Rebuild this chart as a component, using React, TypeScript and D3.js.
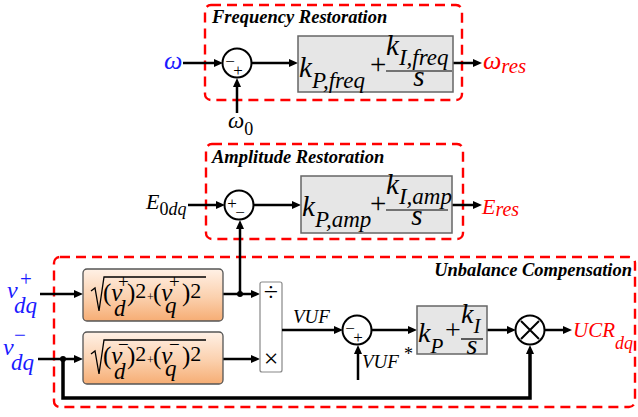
import * as d3 from 'd3';

// block titles and signal names
const titles = ['Frequency Restoration', 'Amplitude Restoration', 'Unbalance Compensation'];
const inputs = ['ω', 'E', 'v', 'v'];
const outputs = ['ω', 'E', 'UCR'];
const subs = ['res', 'res', 'dq'];
const gainSubs = ['P,freq', 'I,freq', 'P,amp', 'I,amp', 'P', 'I'];

const RED = '#ff0000';
const BLUE = '#1a1aff';
const serif = { fontFamily: 'Liberation Serif' };

const line = d3.line<[number, number]>();

const Wire = ({ pts, arrow = true, w = 2.5 }: { pts: [number, number][]; arrow?: boolean; w?: number }) => {
  const [x1, y1] = pts[pts.length - 2];
  const [x2, y2] = pts[pts.length - 1];
  const a = Math.atan2(y2 - y1, x2 - x1);
  const L = 9, W = 4;
  const head: [number, number][] = [
    [x2, y2],
    [x2 - L * Math.cos(a) + W * Math.sin(a), y2 - L * Math.sin(a) - W * Math.cos(a)],
    [x2 - L * Math.cos(a) - W * Math.sin(a), y2 - L * Math.sin(a) + W * Math.cos(a)],
  ];
  const body = arrow ? [...pts.slice(0, -1), [x2 - 6 * Math.cos(a), y2 - 6 * Math.sin(a)] as [number, number]] : pts;
  return (
    <g>
      <path d={line(body) ?? ''} fill="none" stroke="#000" strokeWidth={w} />
      {arrow && <path d={(line(head) ?? '') + 'Z'} fill="#000" />}
    </g>
  );
};

const Dashed = ({ x, y, w, h }: { x: number; y: number; w: number; h: number }) => (
  <rect x={x} y={y} width={w} height={h} rx={6} fill="none" stroke={RED} strokeWidth={2.4} strokeDasharray="10,6" />
);

const Sum = ({ cx, cy, left, bottom }: { cx: number; cy: number; left: string; bottom: string }) => (
  <g>
    <circle cx={cx} cy={cy} r={14.5} fill="#fff" stroke="#000" strokeWidth={2} />
    <text style={serif} x={cx - 7} y={cy + 4} fontSize={17} textAnchor="middle">{left}</text>
    <text style={serif} x={cx + 1} y={cy + 13} fontSize={17} textAnchor="middle">{bottom}</text>
  </g>
);

const Gain = ({ x, y, w, h, kx, ky, p, fx, fw, fy, i, sub = 23, size = 29 }: any) => (
  <g fontStyle="italic">
    <rect x={x} y={y} width={w} height={h} fill="#e6e6e6" stroke="#666" strokeWidth={1.5} />
    <text style={serif} x={kx} y={ky} fontSize={size}>k<tspan fontSize={sub} dy={11}>{p}</tspan></text>
    <text style={serif} x={fx - 16} y={ky - 3} fontSize={size} fontStyle="normal">+</text>
    <text style={serif} x={fx} y={fy} fontSize={size}>k<tspan fontSize={sub} dy={10}>{i}</tspan></text>
    <line x1={fx} x2={fx + fw} y1={fy + 16} y2={fy + 16} stroke="#000" strokeWidth={1.2} />
    <text style={serif} x={fx + fw / 2} y={fy + 31} fontSize={size} textAnchor="middle">s</text>
  </g>
);

const Mag = ({ y, sign }: { y: number; sign: string }) => {
  const p = d3.path();
  p.moveTo(91, y + 22);
  p.lineTo(95, y + 19);
  p.lineTo(99, y + 42);
  p.lineTo(104, y + 8);
  p.lineTo(206, y + 8);
  const s = sign === '+' ? '+' : '−';
  return (
    <g>
      <rect x={83} y={y} width={140} height={52} rx={4} fill="url(#orange)" stroke="#555" strokeWidth={1.3} />
      <path d={p.toString()} fill="none" stroke="#000" strokeWidth={1.3} />
      <text style={serif} y={y + 32} fontSize={25}>
        <tspan x={103}>(</tspan><tspan fontStyle="italic">v</tspan>
        <tspan x={127}>)</tspan><tspan dy={-3} fontSize={22}>2</tspan>
        <tspan x={147} dy={3} fontSize={12}>+</tspan>
        <tspan x={153} fontSize={25}>(</tspan><tspan fontStyle="italic">v</tspan>
        <tspan x={182}>)</tspan><tspan dy={-3} fontSize={22}>2</tspan>
      </text>
      <text style={serif} x={118} y={y + 19} fontSize={19}>{s}</text>
      <text style={serif} x={169} y={y + 19} fontSize={19}>{s}</text>
      <text style={serif} x={114} y={y + 47} fontSize={23} fontStyle="italic">d</text>
      <text style={serif} x={165} y={y + 44} fontSize={23} fontStyle="italic">q</text>
    </g>
  );
};

export default function App() {
  return (
    <svg width={638} height={417} style={{ position: 'absolute', left: 0, top: 0 }}>
      <defs>
        <linearGradient id="orange" x1="0" y1="0" x2="0" y2="1">
          <stop offset="0" stopColor="#fff1e6" />
          <stop offset="0.55" stopColor="#fbd0ad" />
          <stop offset="1" stopColor="#f6ad74" />
        </linearGradient>
      </defs>
      <rect width={638} height={417} fill="#fff" />

      {/* dashed group frames */}
      <Dashed x={205} y={5} w={257} h={95} />
      <Dashed x={206} y={144} w={257} h={95} />
      <Dashed x={54} y={257} w={581} h={150} />

      <g fontStyle="italic" fontWeight="bold" fontSize={18.5}>
        <text style={serif} x={212} y={23}>{titles[0]}</text>
        <text style={serif} x={212} y={163}>{titles[1]}</text>
        <text style={serif} x={632} y={276} textAnchor="end">{titles[2]}</text>
      </g>

      {/* frequency loop */}
      <Wire pts={[[183, 63], [223, 63]]} />
      <Wire pts={[[237, 113], [237, 78]]} />
      <Wire pts={[[252, 63], [298, 63]]} />
      <Wire pts={[[453, 63], [482, 63]]} />
      <Sum cx={237} cy={63} left="−" bottom="+" />
      <Gain x={298} y={36} w={155} h={56} kx={299} ky={77} p={gainSubs[0]} fx={386} fw={66} fy={55} i={gainSubs[1]} />

      {/* amplitude loop */}
      <Wire pts={[[188, 205], [225, 205]]} />
      <Wire pts={[[240, 294], [240, 220]]} />
      <Wire pts={[[254, 205], [301, 205]]} />
      <Wire pts={[[452, 205], [482, 205]]} />
      <Sum cx={239} cy={205} left="+" bottom="−" />
      <Gain x={301} y={176} w={151} h={57} kx={302} ky={216} p={gainSubs[2]} fx={386} fw={62} fy={194} i={gainSubs[3]} />

      {/* unbalance loop */}
      <Wire pts={[[40, 294], [83, 294]]} />
      <Wire pts={[[38, 359], [83, 359]]} />
      <Wire pts={[[223, 294], [260, 294]]} />
      <Wire pts={[[223, 359], [260, 359]]} />
      <Wire pts={[[63, 359], [63, 398], [530, 398], [530, 345]]} w={3.5} />
      <circle cx={240} cy={294} r={3} fill="#000" />
      <circle cx={63} cy={359} r={3} fill="#000" />
      <Mag y={269} sign="+" />
      <Mag y={332} sign="-" />

      <rect x={260} y={282} width={22} height={90} rx={2} fill="#fff" stroke="#888" strokeWidth={1.2} />
      <text style={serif} x={271} y={301} fontSize={26} textAnchor="middle">÷</text>
      <text style={serif} x={271} y={367} fontSize={26} textAnchor="middle">×</text>

      <Wire pts={[[282, 330], [343, 330]]} />
      <Wire pts={[[358, 380], [358, 345]]} />
      <Wire pts={[[372, 330], [417, 330]]} />
      <Wire pts={[[487, 330], [516, 330]]} />
      <Wire pts={[[545, 330], [572, 330]]} />
      <Sum cx={357} cy={330} left="−" bottom="+" />
      <Gain x={417} y={306} w={70} h={48} kx={418} ky={342} p={gainSubs[4]} fx={461} fw={22} fy={323} i={gainSubs[5]} sub={21} size={28} />
      <g>
        <circle cx={530} cy={330} r={14.5} fill="#fff" stroke="#000" strokeWidth={2} />
        <path d={`M${530 - 9},${330 - 9}L${530 + 9},${330 + 9}M${530 + 9},${330 - 9}L${530 - 9},${330 + 9}`} stroke="#000" strokeWidth={2} />
      </g>

      <g fontStyle="italic">
        <text style={serif} x={293} y={323} fontSize={19}>VUF</text>
        <text style={serif} x={362} y={368} fontSize={19}>VUF<tspan fontStyle="normal" fontSize={18} dx={5} dy={-8}>*</tspan></text>

        {/* inputs */}
        <text style={serif} x={164} y={69} fontSize={26} fill={BLUE}>{inputs[0]}</text>
        <text style={serif} x={228} y={128} fontSize={23}>ω<tspan fontSize={18} fontStyle="normal" dy={7}>0</tspan></text>
        <text style={serif} x={146} y={209} fontSize={22}>{inputs[1]}<tspan fontSize={18} dy={6}><tspan fontStyle="normal">0</tspan>dq</tspan></text>
        <g fill={BLUE}>
          <text style={serif} x={7} y={298} fontSize={24}>{inputs[2]}</text>
          <text style={serif} x={20} y={286} fontSize={21} fontStyle="normal">+</text>
          <text style={serif} x={14} y={313} fontSize={23}>dq</text>
          <text style={serif} x={3} y={355} fontSize={24}>{inputs[3]}</text>
          <text style={serif} x={14} y={342} fontSize={21} fontStyle="normal">−</text>
          <text style={serif} x={11} y={370} fontSize={23}>dq</text>
        </g>

        {/* outputs */}
        <g fill={RED}>
          <text style={serif} x={483} y={69} fontSize={26}>{outputs[0]}<tspan fontSize={21} dy={4}>{subs[0]}</tspan></text>
          <text style={serif} x={482} y={214} fontSize={22}>{outputs[1]}<tspan fontSize={20} dy={2}>{subs[1]}</tspan></text>
          <text style={serif} x={573} y={337} fontSize={21}>{outputs[2]}<tspan fontSize={18} dy={12}>{subs[2]}</tspan></text>
        </g>
      </g>
    </svg>
  );
}
